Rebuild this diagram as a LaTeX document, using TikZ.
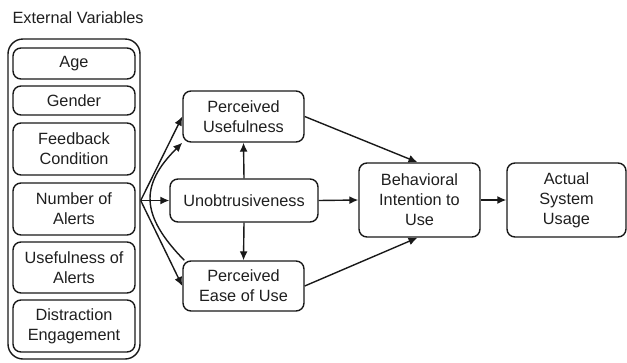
\documentclass[tikz,border=0pt]{standalone}
\usepackage{fontspec}
\setmainfont{Liberation Sans}
\usetikzlibrary{arrows.meta}
\begin{document}
\begin{tikzpicture}[x=1pt,y=-1pt,
  ink/.style={draw=black!90, line width=1.4pt},
  box/.style={ink, rounded corners=8pt, align=center, inner sep=0pt,
    font=\fontsize{16.3}{20}\selectfont, text=black!88},
  arr/.style={ink, -{Latex[length=9pt,width=8pt]}}]
\useasboundingbox (0,0) rectangle (627,362);
\node[anchor=west, font=\fontsize{16.3}{20}\selectfont, text=black!88] (title) at (9,18) {External Variables};
\node[ink, rounded corners=15pt, minimum width=132pt, minimum height=320pt] (outer) at (74,199) {};
\node[box, minimum width=122pt, minimum height=31pt] (age) at (74,63.5) {Age};
\node[box, minimum width=122pt, minimum height=29pt] (gender) at (74,100.5) {Gender};
\node[box, minimum width=122pt, minimum height=52pt] (feed) at (74,149) {Feedback\\Condition};
\node[box, minimum width=122pt, minimum height=52pt] (num) at (74,209) {Number of\\Alerts};
\node[box, minimum width=122pt, minimum height=51pt] (usef) at (74,267.5) {Usefulness of\\Alerts};
\node[box, minimum width=122pt, minimum height=52pt] (dist) at (74,326) {Distraction\\Engagement};
\node[box, minimum width=121pt, minimum height=51pt] (pu) at (243.5,116.5) {Perceived\\Usefulness};
\node[box, minimum width=148pt, minimum height=43pt] (un) at (244,200.5) {Unobtrusiveness};
\node[box, minimum width=121pt, minimum height=50pt] (pe) at (243.5,286) {Perceived\\Ease of Use};
\node[box, minimum width=121pt, minimum height=74pt] (bi) at (419.5,200) {Behavioral\\Intention to\\Use};
\node[box, minimum width=119pt, minimum height=74pt] (as) at (566.5,200) {Actual\\System\\Usage};
\coordinate (fan) at (outer.east |- un.west);
\draw[arr] (fan) -- (pu.west);
\draw[arr] (fan) -- (un.west);
\draw[arr] (fan) -- (pe.west);
\draw[arr] ([xshift=2pt]pe.north west) .. controls (140,215) and (140,185) .. (pu.south west);
\draw[arr] (un.north) -- (pu.south);
\draw[arr] (un.south) -- (pe.north);
\draw[arr] (un.east) -- (bi.west);
\draw[arr] (pu.east) -- ([xshift=-2pt]bi.north);
\draw[arr] (pe.east) -- ([xshift=-2pt]bi.south);
\draw[arr] (bi.east) -- (as.west);
\end{tikzpicture}
\end{document}
